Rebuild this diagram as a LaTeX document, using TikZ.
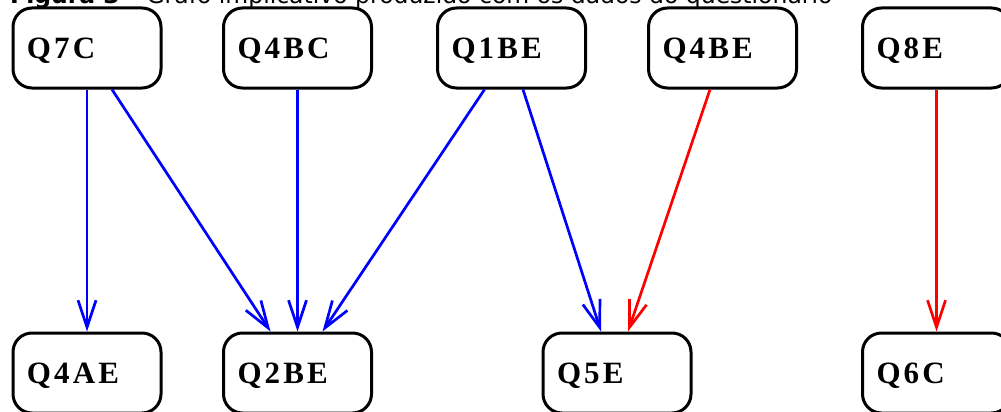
\documentclass[tikz,border=0pt]{standalone}
\usepackage{fontspec}
\setmainfont{Liberation Serif}
\newfontfamily\capfont{DejaVu Sans}
\newfontfamily\boxfont[LetterSpace=10]{Liberation Serif}
\usetikzlibrary{arrows.meta}

\begin{document}
\begin{tikzpicture}[x=1pt, y=-1pt,
  >={Straight Barb[length=27pt,width=18pt]},
  qbox/.style={draw, line width=3pt, rounded corners=19pt, minimum height=80pt,
    text width=120pt, inner xsep=14pt, inner ysep=0pt, align=left, text depth=0pt,
    font=\boxfont\bfseries\fontsize{31}{33}\selectfont},
  imp/.style={->, line width=2.7pt, blue},
  impneg/.style={imp, red}]
  \useasboundingbox (0,0) rectangle (1001,412);
  \clip (0,0) rectangle (1001,412);
  \node[anchor=base west, inner sep=0pt, font=\capfont\fontsize{23.5}{26}\selectfont] (cap) at (10,3.5)
    {\textbf{Figura 3} – Grafo implicativo produzido com os dados do questionário};

  % variables
  \node[qbox] (q7c)  at (87,48)    {Q7C};
  \node[qbox] (q4bc) at (297.5,48) {Q4BC};
  \node[qbox] (q1be) at (511.5,48) {Q1BE};
  \node[qbox] (q4be) at (722.5,48) {Q4BE};
  \node[qbox] (q8e)  at (936.5,48) {Q8E};
  \node[qbox] (q4ae) at (87,373)    {Q4AE};
  \node[qbox] (q2be) at (297.5,373) {Q2BE};
  \node[qbox] (q5e)  at (617,373)   {Q5E};
  \node[qbox] (q6c)  at (936.5,373) {Q6C};

  % implications
  \draw[imp] (q7c) -- (q4ae);
  \draw[imp] ([xshift=25pt]q7c.south) -- ([xshift=-27pt]q2be.north);
  \draw[imp] (q4bc) -- (q2be);
  \draw[imp] ([xshift=-27pt]q1be.south) -- ([xshift=25pt]q2be.north);
  \draw[imp] ([xshift=11.5pt]q1be.south) -- ([xshift=-16pt]q5e.north);
  \draw[impneg] ([xshift=-12.5pt]q4be.south) -- ([xshift=11pt]q5e.north);
  \draw[impneg] (q8e) -- (q6c);
\end{tikzpicture}
\end{document}
